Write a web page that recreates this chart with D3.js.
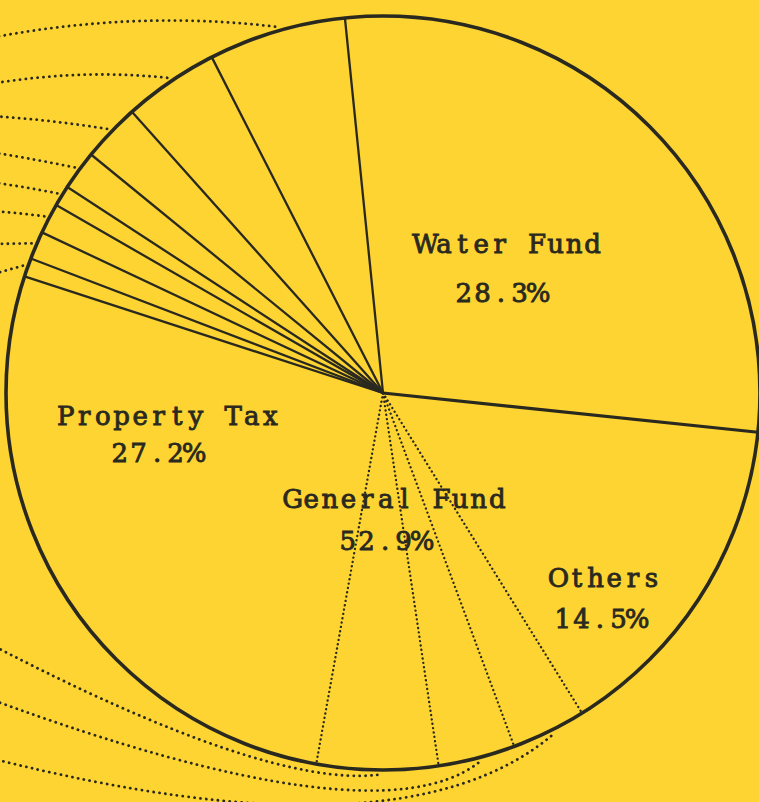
<!DOCTYPE html>
<html>
<head>
<meta charset="utf-8">
<script src="https://cdn.jsdelivr.net/npm/d3@7"></script>
<style>
  html, body { margin: 0; padding: 0; background: #fdd431; }
  svg { display: block; }
</style>
</head>
<body>
<div id="chart"></div>
<script>
// slices in clockwise order, starting at the Water Fund edge just left of 12 o'clock
const sliceNames = ["Water Fund", "Others", "GF 1", "GF 2", "GF 3", "Property Tax",
  "GF 4", "GF 5", "GF 6", "GF 7", "GF 8", "GF 9", "GF 10", "GF 11"];
const sliceValues = [28.3, 14.5, 3.2, 3.3, 5.2, 27.2, 0.8, 1.2, 1.3, 0.9, 1.7, 2.5, 4.1, 5.9];

const labelNames = ["Water Fund", "Property Tax", "General Fund", "Others"];
const labelPercents = [28.3, 27.2, 52.9, 14.5];

const width = 759, height = 802;
const cx = 383, cy = 393, radius = 377;
const startDeg = -5.8;
const ink = "#2a2920";
const paper = "#fdd431";

// edges typed as dots instead of ruled
const dottedEdge = new Set(["GF 1", "GF 2", "GF 3", "Property Tax"]);

// leaders run off the left side of the sheet to labels cut from the page
// y = where each leader leaves the page, bow/f/sag shape the curve
const topLeaders = {
  "GF 11": { y: 38, bow: 22 }, "GF 10": { y: 84, bow: 12 }, "GF 9": { y: 116, bow: 3 },
  "GF 8": { y: 152, bow: 1 }, "GF 7": { y: 182, bow: 1 }, "GF 6": { y: 211, bow: 1 },
  "GF 5": { y: 244, bow: 0 }, "GF 4": { y: 275, bow: 0 }
};
const bottomLeaders = {
  "GF 3": { y: 644, f: 0.29, sag: 12 },
  "GF 2": { y: 699, f: 0.21, sag: 78 },
  "GF 1": { y: 758, f: 0.27, sag: 126 }
};

// label placement relative to the pie centre: [dx, dy] of the name line and of the percent line
const labelOffsets = {
  "Water Fund": [[126, -140], [118, -91]],
  "Property Tax": [[-215, 32], [-226, 69]],
  "General Fund": [[12, 115], [2, 157]],
  "Others": [[222, 194], [217, 235]]
};
const pitch = 18.6; // typewriter character pitch

const svg = d3.select("#chart").append("svg")
  .attr("width", width)
  .attr("height", height);

svg.append("rect").attr("width", width).attr("height", height).attr("fill", paper);

const g = svg.append("g").attr("transform", `translate(${cx},${cy})`);

const start = startDeg * Math.PI / 180;
const pie = d3.pie().sort(null).value(d => d.value)
  .startAngle(start).endAngle(start + 2 * Math.PI);

const slices = pie(sliceNames.map((name, i) => ({ name, value: sliceValues[i] })));

const arc = d3.arc().innerRadius(0).outerRadius(radius);

g.selectAll("path.slice")
  .data(slices)
  .enter()
  .append("path")
  .attr("class", "slice")
  .attr("d", arc)
  .attr("fill", paper);

// slice edges
g.selectAll("line.edge")
  .data(slices)
  .enter()
  .append("line")
  .attr("class", "edge")
  .attr("x1", 0).attr("y1", 0)
  .attr("x2", d => d3.pointRadial(d.startAngle, radius)[0])
  .attr("y2", d => d3.pointRadial(d.startAngle, radius)[1])
  .attr("stroke", ink)
  .attr("stroke-width", d => dottedEdge.has(d.data.name) ? 2.3 : (d.data.name === "Others" ? 3.2 : 2.3))
  .attr("stroke-linecap", "round")
  .attr("stroke-dasharray", d => dottedEdge.has(d.data.name) ? "0.1 4.3" : null);

// outer circle
g.append("circle")
  .attr("r", radius)
  .attr("fill", "none")
  .attr("stroke", ink)
  .attr("stroke-width", 3.6);

// leader lines
const midAngle = d => (d.startAngle + d.endAngle) / 2;
const leaderPath = d => {
  const p = d3.pointRadial(midAngle(d), radius + 5).map((v, i) => v + (i ? cy : cx));
  const path = d3.path();
  path.moveTo(p[0], p[1]);
  if (topLeaders[d.data.name]) {
    const L = topLeaders[d.data.name];
    const ex = -10, ey = L.y;
    path.quadraticCurveTo((p[0] + ex) / 2, (p[1] + ey) / 2 - L.bow, ex, ey);
  } else {
    const L = bottomLeaders[d.data.name];
    const ex = -10, ey = L.y;
    path.quadraticCurveTo(p[0] - L.f * (p[0] - ex), p[1] + L.sag, ex, ey);
  }
  return path.toString();
};

svg.selectAll("path.leader")
  .data(slices.filter(d => topLeaders[d.data.name] || bottomLeaders[d.data.name]))
  .enter()
  .append("path")
  .attr("class", "leader")
  .attr("d", leaderPath)
  .attr("fill", "none")
  .attr("stroke", ink)
  .attr("stroke-width", 2.8)
  .attr("stroke-linecap", "round")
  .attr("stroke-dasharray", "0.1 5.8");

// labels, each character centred in its own typewriter cell
const fmt = d3.format(".1f");
const cellXs = (str, x0) => Array.from(str, (c, i) => (x0 + (i - (str.length - 1) / 2) * pitch).toFixed(1)).join(" ");

const labels = g.selectAll("g.label")
  .data(labelNames.map((name, i) => ({ name, pct: fmt(labelPercents[i]) + "%" })))
  .enter()
  .append("g")
  .attr("class", "label")
  .attr("font-family", "'DejaVu Serif', 'Liberation Serif', serif")
  .attr("font-size", 26)
  .attr("fill", ink)
  .attr("stroke", ink)
  .attr("stroke-width", 0.9)
  .attr("text-anchor", "middle");

labels.append("text")
  .attr("x", d => cellXs(d.name, labelOffsets[d.name][0][0]))
  .attr("y", d => labelOffsets[d.name][0][1])
  .text(d => d.name);

labels.append("text")
  .attr("x", d => cellXs(d.pct, labelOffsets[d.name][1][0]))
  .attr("y", d => labelOffsets[d.name][1][1])
  .text(d => d.pct);
</script>
</body>
</html>
